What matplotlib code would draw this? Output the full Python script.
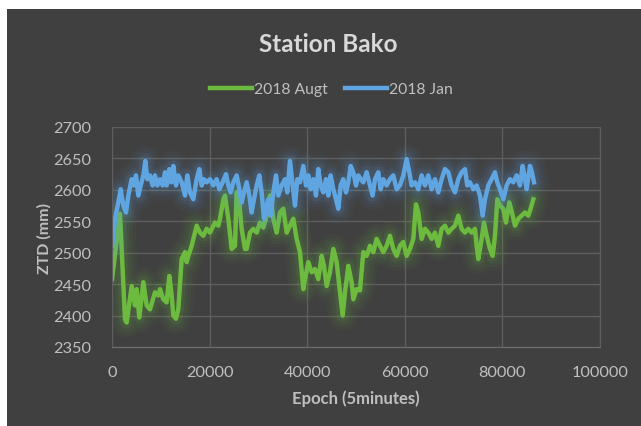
import numpy as np
import matplotlib.pyplot as plt
from matplotlib.patches import Rectangle

# ZTD series (epoch in 5-minute units, ZTD in mm)
aug_epoch = [0, 1639, 2664, 3005, 4030, 4713, 5054, 5600, 6420, 7103, 7786, 8810,
             9494, 9835, 10518, 11201, 11747, 12226, 12567, 13113, 13592, 14275,
             14958, 15299, 15640, 16324, 17348, 18031, 18714, 19397, 20080, 21104,
             21788, 22129, 22812, 23154, 23837, 24520, 25203, 25544, 26091, 26569,
             27252, 27593, 28276, 28959, 29642, 30325, 31008, 31691, 32374, 32715,
             33057, 33740, 34423, 35106, 35789, 36472, 37155, 37838, 38521, 39204,
             39545, 40229, 40912, 41595, 42278, 42961, 43439, 43985, 44668, 45351,
             46034, 46717, 47263, 47742, 48425, 49108, 49449, 50132, 50815, 51498,
             52181, 52864, 53547, 54230, 54913, 55596, 56279, 56962, 57645, 58328,
             59011, 59694, 60377, 61060, 61743, 62290, 62768, 63451, 64134, 64817,
             65500, 66183, 66866, 67549, 68232, 68915, 69598, 70281, 70964, 71647,
             72330, 73013, 73696, 74379, 74721, 75062, 75745, 76223, 76771, 77453,
             78000, 78478, 78956, 79502, 80185, 80731, 81414, 81961, 82575, 83258,
             83941, 84624, 85307, 85785, 86331]
aug_ztd = [2458, 2562, 2394, 2389, 2447, 2416, 2442, 2397, 2453, 2416, 2410, 2437,
           2432, 2442, 2426, 2421, 2463, 2432, 2400, 2395, 2410, 2490,
           2501, 2485, 2495, 2511, 2543, 2532, 2527, 2538, 2532, 2548,
           2543, 2554, 2585, 2591, 2554, 2506, 2511, 2596, 2580, 2538,
           2506, 2506, 2532, 2538, 2532, 2548, 2540, 2559, 2591, 2575,
           2554, 2532, 2564, 2570, 2532, 2543, 2554, 2522, 2501, 2442,
           2458, 2485, 2469, 2474, 2458, 2495, 2479, 2447, 2469, 2506,
           2485, 2437, 2400, 2437, 2479, 2453, 2426, 2442, 2440, 2501,
           2495, 2511, 2501, 2522, 2511, 2501, 2511, 2527, 2506, 2495,
           2511, 2517, 2495, 2506, 2522, 2577, 2564, 2522, 2538, 2532,
           2522, 2532, 2511, 2538, 2543, 2532, 2538, 2543, 2559, 2538,
           2532, 2538, 2532, 2538, 2511, 2490, 2522, 2548, 2527, 2506,
           2495, 2527, 2585, 2575, 2570, 2548, 2580, 2564, 2543, 2554,
           2559, 2564, 2559, 2570, 2585]

jan_epoch = [0, 615, 1298, 1776, 2323, 2869, 3347, 4030, 4508, 4918, 5396, 5874,
             6420, 6830, 7240, 7786, 8333, 8810, 9289, 9835, 10381, 10859, 11201,
             11747, 12157, 12567, 13113, 13592, 14275, 14958, 15436, 15982, 16665,
             17348, 17894, 18373, 18851, 19397, 20080, 20763, 21446, 21993, 22676,
             23359, 23837, 24315, 24861, 25544, 26091, 26569, 27047, 27593, 28140,
             28617, 29095, 29642, 30188, 30666, 31145, 31691, 32032, 32511, 33057,
             33603, 34081, 34764, 35447, 35925, 36472, 37018, 37496, 37974, 38521,
             39204, 39750, 40229, 40707, 41253, 41800, 42278, 42756, 43303, 43849,
             44327, 44805, 45351, 45898, 46376, 46854, 47400, 47947, 48425, 48903,
             49449, 49995, 50474, 50952, 51498, 52181, 52864, 53410, 53889, 54572,
             55050, 55596, 56279, 56962, 57645, 58328, 59011, 59694, 60377, 60923,
             61401, 62084, 62768, 63451, 64134, 64817, 65500, 66183, 66866, 67549,
             68232, 68915, 69598, 70281, 70964, 71647, 72330, 72808, 73355, 74038,
             74721, 75404, 75950, 76429, 77112, 77795, 78478, 78956, 79502, 80185,
             80868, 81551, 82234, 82917, 83600, 84146, 84624, 84965, 85648, 86058,
             86468]
jan_ztd = [2511, 2554, 2580, 2601, 2575, 2564, 2591, 2617, 2607, 2623, 2591, 2607,
           2623, 2646, 2617, 2623, 2607, 2623, 2607, 2617, 2607, 2628, 2607,
           2633, 2612, 2638, 2607, 2623, 2612, 2591, 2623, 2596, 2585,
           2617, 2633, 2607, 2617, 2612, 2617, 2607, 2617, 2601, 2612,
           2625, 2607, 2596, 2612, 2623, 2601, 2580, 2596, 2612, 2591,
           2564, 2585, 2607, 2623, 2596, 2554, 2575, 2585, 2559, 2596,
           2623, 2591, 2607, 2617, 2596, 2646, 2607, 2575, 2617, 2612,
           2638, 2607, 2623, 2601, 2617, 2591, 2633, 2607, 2596, 2617,
           2591, 2623, 2601, 2585, 2570, 2607, 2617, 2596, 2612, 2638,
           2628, 2607, 2623, 2617, 2612, 2628, 2607, 2591, 2617, 2628,
           2601, 2617, 2607, 2617, 2623, 2601, 2607, 2623, 2649, 2628,
           2607, 2612, 2601, 2623, 2607, 2623, 2601, 2617, 2596, 2617,
           2633, 2628, 2607, 2596, 2617, 2628, 2633, 2607, 2612, 2601,
           2607, 2591, 2559, 2585, 2607, 2617, 2628, 2612, 2601, 2585,
           2607, 2617, 2612, 2623, 2607, 2638, 2617, 2601, 2638, 2628,
           2612]

x_ticks = [0, 20000, 40000, 60000, 80000, 100000]
y_ticks = [2350, 2400, 2450, 2500, 2550, 2600, 2650, 2700]

bg = '#404040'
grid_c = '#5e5e5e'
txt_c = '#bfbfbf'
green = '#6cbb3f'
blue = '#5fa5e2'

plt.rcParams['font.family'] = ['Lato', 'DejaVu Sans']

fig = plt.figure(figsize=(6.41, 4.27), dpi=100)
fig.patch.set_facecolor('white')
fig.add_artist(Rectangle((7 / 641, 0), 1, 1 - 10 / 427, transform=fig.transFigure,
                         facecolor=bg, edgecolor='none', zorder=-10))

ax = fig.add_axes([112 / 641, 1 - 348 / 427, 488 / 641, 220 / 427])
ax.set_zorder(1)
ax.set_facecolor(bg)

for xs, ys, c, lab in [(aug_epoch, aug_ztd, green, '2018 Augt'),
                       (jan_epoch, jan_ztd, blue, '2018 Jan')]:
    # soft glow around the line
    for w, a in [(22, 0.035), (17, 0.05), (12, 0.07), (8, 0.1)]:
        ax.plot(xs, ys, color=c, lw=w, alpha=a, solid_joinstyle='round',
                solid_capstyle='round')
    ax.plot(xs, ys, color=c, lw=3.2, label=lab, solid_joinstyle='round')

ax.set_xlim(0, 100000)
ax.set_ylim(2350, 2700)
ax.set_xticks(x_ticks)
ax.set_yticks(y_ticks)
ax.grid(True, color=grid_c, lw=1)
ax.set_axisbelow(True)
for s in ax.spines.values():
    s.set_color(grid_c)
ax.spines['bottom'].set_color('#6e6e6e')
ax.tick_params(axis='y', length=0, colors=txt_c, labelsize=11.8, pad=15)
ax.tick_params(axis='x', length=0, colors=txt_c, labelsize=11.8, pad=13)

ax.set_xlabel('Epoch (5minutes)', color=txt_c, fontsize=12, fontweight='bold')
ax.set_ylabel('ZTD (mm)', color=txt_c, fontsize=11.5, fontweight='bold')
ax.xaxis.set_label_coords(0.5, (348 - 399) / 220)
ax.xaxis.label.set_va('center')
ax.yaxis.set_label_coords((44.5 - 112) / 488, 0.5)
ax.yaxis.label.set_va('center')

fig.text(328 / 641, 1 - 44 / 427, 'Station Bako', ha='center', va='center',
         color='#d9d9d9', fontsize=17.5, fontweight='bold')
fig.legend(loc='center', bbox_to_anchor=(331 / 641, 1 - 90 / 427), ncol=2,
           frameon=False, fontsize=11.3, labelcolor=txt_c, handlelength=2.7,
           handletextpad=0.1, columnspacing=1.1)

plt.savefig('out.png', dpi=100, facecolor=fig.get_facecolor())
